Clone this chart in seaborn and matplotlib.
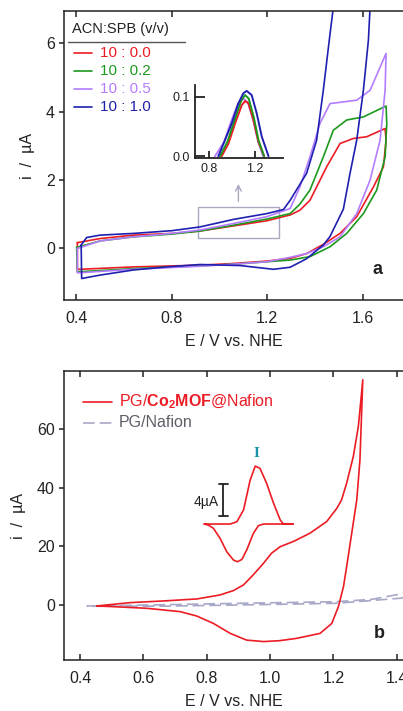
import matplotlib
matplotlib.use("Agg")
import matplotlib.pyplot as plt
import seaborn as sns
from matplotlib.lines import Line2D
from matplotlib.patches import Rectangle

# ---- panel a: CVs for different ACN:SPB ratios (E / V vs NHE, i / uA) ----
E_red = [0.404, 0.499, 0.639, 0.800, 0.918, 1.058, 1.198, 1.296, 1.337, 1.379, 1.414, 1.449,
         1.505, 1.561, 1.617, 1.694, 1.698, 1.687, 1.645, 1.575, 1.505, 1.435, 1.365, 1.296,
         1.198, 1.058, 0.918, 0.639, 0.415, 0.404, 0.404]
i_red = [0.17, 0.29, 0.39, 0.44, 0.51, 0.66, 0.81, 0.98, 1.12, 1.41, 1.90, 2.39,
         3.07, 3.22, 3.27, 3.51, 3.17, 2.39, 1.80, 0.93, 0.44, 0.12, -0.15, -0.29,
         -0.37, -0.44, -0.49, -0.54, -0.61, -0.61, 0.17]

E_green = [0.401, 0.499, 0.639, 0.800, 0.918, 1.058, 1.198, 1.296, 1.337, 1.379, 1.435, 1.477,
           1.533, 1.603, 1.698, 1.701, 1.694, 1.659, 1.603, 1.533, 1.463, 1.379, 1.296, 1.198,
           1.058, 0.918, 0.639, 0.415, 0.404, 0.401]
i_green = [0.03, 0.22, 0.34, 0.42, 0.51, 0.68, 0.86, 1.02, 1.30, 1.71, 2.68, 3.46,
           3.76, 3.85, 4.17, 3.66, 2.68, 1.71, 1.02, 0.44, 0.05, -0.24, -0.34, -0.39,
           -0.46, -0.51, -0.59, -0.68, -0.68, 0.03]

E_violet = [0.404, 0.499, 0.639, 0.800, 0.918, 1.058, 1.198, 1.296, 1.337, 1.379, 1.421, 1.463,
            1.519, 1.575, 1.631, 1.698, 1.694, 1.673, 1.631, 1.575, 1.505, 1.435, 1.365, 1.296,
            1.198, 1.058, 0.918, 0.639, 0.415, 0.404, 0.404]
i_violet = [0.00, 0.22, 0.34, 0.44, 0.54, 0.73, 0.93, 1.17, 1.80, 2.68, 3.66, 4.24,
            4.29, 4.34, 4.63, 5.71, 4.63, 3.17, 2.00, 1.02, 0.34, 0.05, -0.15, -0.26,
            -0.39, -0.46, -0.52, -0.61, -0.71, -0.71, 0.00]

E_blue = [0.420, 0.443, 0.499, 0.639, 0.800, 0.918, 1.058, 1.198, 1.268, 1.296, 1.365, 1.407,
          1.435, 1.460, 1.484, 1.700, 1.632, 1.624, 1.603, 1.575, 1.547, 1.519, 1.463, 1.435,
          1.365, 1.296, 1.226, 1.086, 0.918, 0.779, 0.639, 0.499, 0.422, 0.420]
i_blue = [0.10, 0.32, 0.39, 0.44, 0.52, 0.63, 0.85, 1.02, 1.14, 1.41, 2.20, 3.17,
          4.63, 6.10, 7.46, 12.0, 7.20, 6.10, 4.63, 3.17, 2.20, 1.15, 0.35, 0.10,
          -0.30, -0.55, -0.61, -0.50, -0.47, -0.54, -0.63, -0.78, -0.88, 0.10]

ratio_labels = ["10 : 0.0", "10 : 0.2", "10 : 0.5", "10 : 1.0"]
colors_a = ["#ec1c24", "#1c991c", "#b47dff", "#2020b0"]

# inset a: peak (baseline subtracted)
Ein_red = [0.908, 0.967, 1.025, 1.084, 1.113, 1.142, 1.186, 1.230, 1.280]
iin_red = [0.000, 0.021, 0.055, 0.086, 0.093, 0.089, 0.061, 0.024, 0.000]
Ein_green = [0.894, 0.960, 1.020, 1.080, 1.113, 1.145, 1.190, 1.232, 1.280]
iin_green = [0.000, 0.025, 0.060, 0.094, 0.103, 0.097, 0.065, 0.026, 0.000]
Ein_violet = [0.850, 0.930, 0.990, 1.050, 1.098, 1.140, 1.185, 1.228, 1.271]
iin_violet = [0.000, 0.024, 0.058, 0.088, 0.097, 0.090, 0.060, 0.024, 0.000]
Ein_blue = [0.879, 0.937, 0.996, 1.054, 1.098, 1.127, 1.171, 1.215, 1.259, 1.318]
iin_blue = [0.000, 0.027, 0.055, 0.089, 0.106, 0.110, 0.103, 0.072, 0.033, 0.000]

# ---- panel b ----
E_mof = [0.453, 0.558, 0.663, 0.768, 0.842, 0.884, 0.916, 0.947, 0.979, 1.005, 1.032, 1.074,
         1.126, 1.179, 1.211, 1.226, 1.242, 1.263, 1.279, 1.293, 1.284, 1.274, 1.258, 1.242,
         1.232, 1.216, 1.195, 1.158, 1.084, 1.030, 0.979, 0.926, 0.874, 0.821, 0.768, 0.716,
         0.611, 0.505, 0.453]
i_mof = [-0.34, 0.8, 1.37, 2.05, 3.42, 4.9, 6.84, 10.3, 14.2, 17.7, 19.9, 21.7,
         24.5, 28.5, 33.0, 35.9, 41.6, 50.7, 61.0, 76.9, 49.6, 35.9, 24.5, 13.1,
         6.3, -0.57, -6.3, -9.7, -11.4, -12.2, -12.5, -12.0, -9.7, -6.3, -3.76, -2.28,
         -1.14, -0.57, -0.34]

E_naf = [0.421, 0.674, 0.905, 1.210, 1.320, 1.430, 1.430, 1.410, 1.210, 0.905, 0.674, 0.421]
i_naf = [-0.34, 0.10, 0.57, 1.13, 1.90, 4.10, 2.60, 2.29, 0.57, 0.00, -0.40, -0.45]

# inset b: baseline-subtracted wave I (E, uA)
Eb_in = [0.792, 0.874, 0.895, 0.916, 0.937, 0.953, 0.968, 0.989, 1.011, 1.032, 1.042, 1.072,
         0.979, 0.963, 0.947, 0.926, 0.911, 0.897, 0.884, 0.863, 0.842, 0.821, 0.805, 0.792]
ib_in = [0.0, 0.0, 0.29, 1.75, 5.5, 7.25, 6.96, 5.08, 2.58, 0.5, 0.0, 0.0,
         0.0, -0.2, -1.17, -3.25, -4.42, -4.71, -4.5, -3.46, -1.79, -0.54, -0.13, 0.0]
scale_uA = 4

sns.set_style("ticks")
plt.rcParams['font.family'] = ['Liberation Sans', 'DejaVu Sans']
plt.rcParams['mathtext.fontset'] = 'custom'
plt.rcParams['mathtext.rm'] = 'Liberation Sans'
plt.rcParams['mathtext.bf'] = 'Liberation Sans:bold'

ink = "#222222"
fig = plt.figure(figsize=(4.03, 7.11), dpi=100)
ax_a = fig.add_axes([0.1588, 0.578, 0.8412, 0.4065])
ax_b = fig.add_axes([0.1588, 0.0717, 0.8412, 0.4065])


def style_axes(ax):
    for s in ["top", "bottom", "left"]:
        ax.spines[s].set_linewidth(1.1)
        ax.spines[s].set_color(ink)
    ax.spines["right"].set_visible(False)
    ax.tick_params(axis="x", direction="in", length=4.5, width=1.1, top=True,
                   pad=8, labelsize=11.5, colors=ink)
    ax.tick_params(axis="y", direction="out", length=3.5, width=1.1,
                   pad=3, labelsize=11.5, colors=ink)


# panel a
for E, i, c in zip([E_red, E_green, E_violet, E_blue],
                   [i_red, i_green, i_violet, i_blue], colors_a):
    sns.lineplot(x=E, y=i, sort=False, estimator=None, color=c, lw=1.2, ax=ax_a)
ax_a.set_xlim(0.348, 1.769)
ax_a.set_ylim(-1.51, 6.95)
ax_a.set_xticks([0.4, 0.8, 1.2, 1.6])
ax_a.set_yticks([0, 2, 4, 6])
style_axes(ax_a)
ax_a.set_xlabel("E / V vs. NHE", fontsize=11.5, color=ink, labelpad=6)
ax_a.set_ylabel("i  /  µA", fontsize=11.5, color=ink, labelpad=8)

ax_a.add_patch(Rectangle((0.909, 0.31), 0.342, 0.89, fill=False,
                         edgecolor="#a8a8c0", lw=1.0))
ax_a.annotate("", xy=(1.079, 1.97), xytext=(1.079, 1.30),
              arrowprops=dict(arrowstyle="->", color="#a8a8c0", lw=1.0))
ax_a.text(1.664, -0.63, "a", fontsize=13, weight="bold", ha="center", va="center", color=ink)

# legend a (drawn by hand)
ax_a.text(0.0236, 0.938, "ACN:SPB (v/v)", transform=ax_a.transAxes, fontsize=10.5,
          ha="left", va="center", color=ink)
ax_a.add_line(Line2D([0.0118, 0.357], [0.894, 0.894], transform=ax_a.transAxes,
                     color="#555555", lw=1.0))
for k, (lab, c) in enumerate(zip(ratio_labels, colors_a)):
    y = 0.854 - k * 0.0617
    ax_a.add_line(Line2D([0.0295, 0.0826], [y, y], transform=ax_a.transAxes, color=c, lw=1.2))
    ax_a.text(0.106, y, lab, transform=ax_a.transAxes, fontsize=11, color=c,
              ha="left", va="center")

# inset a
ax_in = fig.add_axes([0.4839, 0.7778, 0.2184, 0.1027])
ax_in.patch.set_alpha(0)
for E, i, c in zip([Ein_violet, Ein_red, Ein_green, Ein_blue],
                   [iin_violet, iin_red, iin_green, iin_blue],
                   [colors_a[2], colors_a[0], colors_a[1], colors_a[3]]):
    sns.lineplot(x=E, y=i, sort=False, estimator=None, color=c, lw=1.4, ax=ax_in)
ax_in.set_xlim(0.675, 1.445)
ax_in.set_ylim(-0.003, 0.12)
ax_in.set_xticks([0.8, 1.2])
ax_in.set_yticks([0.0, 0.1])
ax_in.set_yticklabels(["0.0", "0.1"])
for s in ["top", "right"]:
    ax_in.spines[s].set_visible(False)
for s in ["bottom", "left"]:
    ax_in.spines[s].set_linewidth(1.3)
    ax_in.spines[s].set_color(ink)
ax_in.tick_params(direction="in", length=5, width=1.3, labelsize=9, colors=ink)
ax_in.tick_params(axis="y", length=7)

# panel b
sns.lineplot(x=E_naf, y=i_naf, sort=False, estimator=None, color="#a8a8c8", lw=1.2,
             ax=ax_b).lines[-1].set_dashes([7, 3])
sns.lineplot(x=E_mof, y=i_mof, sort=False, estimator=None, color="#ec1c24", lw=1.2, ax=ax_b)
ax_b.set_xlim(0.349, 1.42)
ax_b.set_ylim(-18.8, 79.9)
ax_b.set_xticks([0.4, 0.6, 0.8, 1.0, 1.2, 1.4])
ax_b.set_yticks([0, 20, 40, 60])
style_axes(ax_b)
ax_b.set_xlabel("E / V vs. NHE", fontsize=11.5, color=ink, labelpad=6)
ax_b.set_ylabel("i  /  µA", fontsize=11.5, color=ink, labelpad=8)
ax_b.text(1.344, -9.9, "b", fontsize=13, weight="bold", ha="center", va="center", color=ink)

ax_b.add_line(Line2D([0.056, 0.142], [0.894, 0.894], transform=ax_b.transAxes,
                     color="#ec1c24", lw=1.2))
ax_b.text(0.162, 0.894, r"PG/$\mathbf{Co}_{\mathbf{2}}\mathbf{MOF}$@Nafion",
          transform=ax_b.transAxes, fontsize=11.5, color="#ec1c24", ha="left", va="center")
ax_b.add_line(Line2D([0.056, 0.142], [0.821, 0.821], transform=ax_b.transAxes,
                     color="#a8a8c8", lw=1.2, dashes=[7, 3]))
ax_b.text(0.162, 0.821, "PG/Nafion", transform=ax_b.transAxes, fontsize=11.5,
          color="#5f5f6a", ha="left", va="center")

# inset b
ax_bi = fig.add_axes([0.4715, 0.1842, 0.2978, 0.1969])
ax_bi.axis("off")
sns.lineplot(x=Eb_in, y=ib_in, sort=False, estimator=None, color="#ec1c24", lw=1.2, ax=ax_bi)
ax_bi.set_xlim(0.747, 1.126)
ax_bi.set_ylim(-7.0, 10.5)
bar_x, bar_y0, cap = 0.8525, 1.0, 0.0135
ax_bi.plot([bar_x, bar_x], [bar_y0, bar_y0 + scale_uA], color=ink, lw=1.3)
for yy in (bar_y0, bar_y0 + scale_uA):
    ax_bi.plot([bar_x - cap, bar_x + cap], [yy, yy], color=ink, lw=1.3)
ax_bi.text(0.8365, bar_y0 + scale_uA / 2 - 0.2, f"{scale_uA}µA", fontsize=10,
           ha="right", va="center", color=ink)
ax_bi.text(0.9557, 8.8, "I", fontsize=11, family="Liberation Serif", weight="bold",
           color="#1a92a8", ha="center", va="center")

fig.savefig("out.png", dpi=100)
